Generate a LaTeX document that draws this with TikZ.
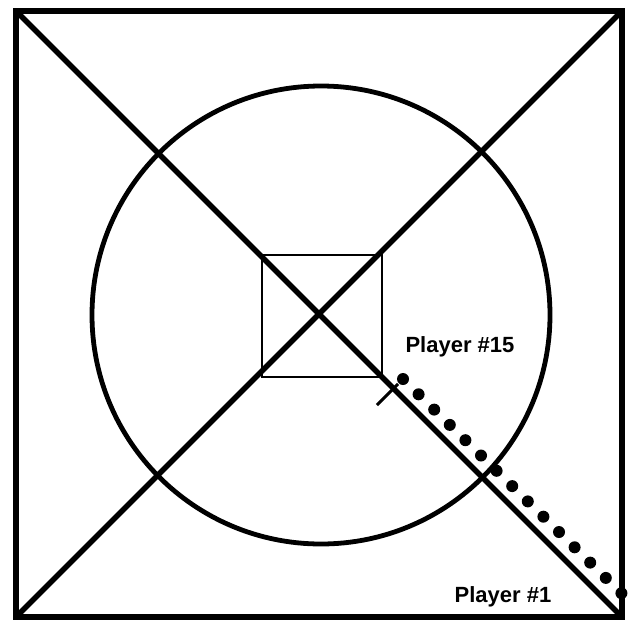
\documentclass[tikz,border=0pt]{standalone}
\usepackage{fontspec}
\setmainfont{Liberation Sans}
\begin{document}
\begin{tikzpicture}[x=1pt,y=-1pt,
  thick line/.style={line width=5.5pt, line cap=round, line join=miter},
  ring/.style={line width=4.8pt},
  thin box/.style={line width=2.6pt},
  label/.style={font=\fontsize{22}{24}\selectfont\bfseries, inner sep=0pt},
  player/.style={circle, fill=black, minimum size=12pt, inner sep=0pt}]
\useasboundingbox (0,0) rectangle (628,621);
\coordinate (TL) at (16,11);
\coordinate (TR) at (622,11);
\coordinate (BR) at (622,617);
\coordinate (BL) at (16,617);
\draw[thick line] (TL) -- (TR) -- (BR) -- (BL) -- cycle;
\draw[ring] (321,315) circle (229);
\draw[thin box] (262,255) rectangle (382,377);
\draw[thick line] (TL) -- (BR);
\draw[thick line] (BL) -- (TR);
\coordinate (t1) at (377,405);
\coordinate (t2) at (398,384);
\draw[line width=3pt] (t1) -- (t2);
\foreach \i in {0,...,14} {
  \node[player] (p\i) at ({403+15.6*\i},{379+15.3*\i}) {};
}
\node[label] (l15) at (460,347) {Player \#15};
\node[label] (l1) at (503,597) {Player \#1};
\end{tikzpicture}
\end{document}
